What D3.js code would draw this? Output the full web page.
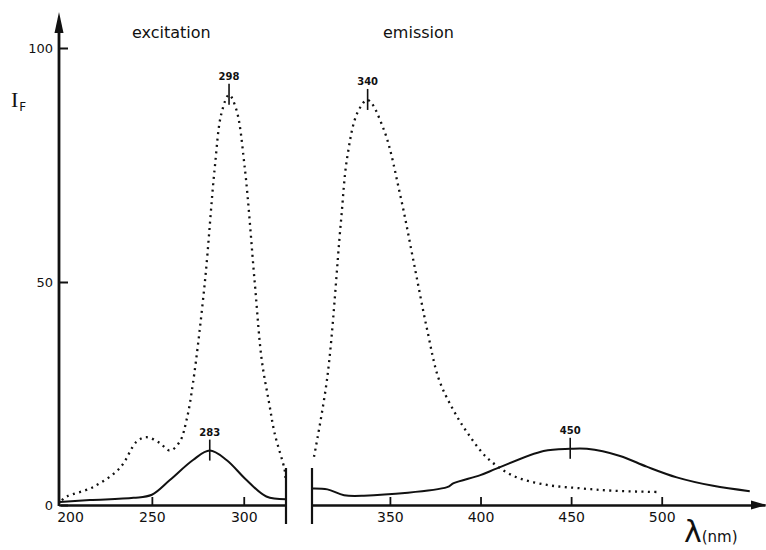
<!DOCTYPE html>
<html>
<head>
<meta charset="utf-8">
<script src="https://cdn.jsdelivr.net/npm/d3@7"></script>
<style>
    body { margin: 0; background: #fff; }
    text { font-family: "DejaVu Sans", sans-serif; fill: #111; }
</style>
</head>
<body>
<div id="chart-container"></div>
<script>
// spectra: [wavelength nm, I_F]
const excitationDotted = [
    [201, 1.1], [203.6, 1.9], [217.9, 4.0], [232.6, 8.3], [241.7, 14.2], [247.1, 15.2],
    [254.3, 13.9], [259.8, 12.2], [265.2, 14.2], [268.9, 19.1], [272.4, 27.4], [278.8, 49.8],
    [284.2, 74.3], [287.9, 86.1], [292, 90], [296, 86.8], [300.5, 74.6], [306, 49.8],
    [309.8, 32.5], [313.8, 22.9], [316.8, 16.1], [322.3, 7.8], [322.8, 5.6]
];
const excitationSolid = [
    [200, 0.7], [216.3, 1.1], [240, 1.6], [250, 2.3], [259.8, 5.6], [272.4, 10.1], [281.5, 12.2],
    [290.6, 10.1], [301.5, 5.6], [312.3, 1.9], [323.2, 1.3]
];
const emissionDotted = [
    [308.1, 10.8], [315.5, 28.8], [322.9, 62.6], [326.5, 76.8], [332, 86.1], [337.7, 88.9],
    [346.7, 82.5], [355.9, 68.2], [363.2, 54.1], [370.6, 39.2], [377, 28.2], [385, 21.3], [392.6, 16.3],
    [403.6, 10.6], [418.3, 6.5], [436.7, 4.5], [455, 3.75], [473.3, 3.2], [499.1, 2.9]
];
const emissionSolid = [
    [307.3, 3.7], [315.5, 3.5], [324.7, 2.2], [335.7, 2.1], [381.6, 4.0], [385.2, 4.9],
    [399.9, 6.7], [409.1, 8.2], [434.8, 12.1], [449.5, 12.6], [458.7, 12.6], [477, 11.0],
    [491.7, 8.6], [508.3, 6.2], [528.4, 4.3], [548.6, 3.1]
];

// peak marks: where they sit in the figure and what they say
const leftPeaks = [{ nm: 292, value: 90, label: '298' }, { nm: 281.5, value: 12.2, label: '283' }];
const rightPeaks = [{ nm: 337.7, value: 88.9, label: '340' }, { nm: 449.5, value: 12.6, label: '450' }];

const leftTicks = [200, 250, 300];
const rightTicks = [350, 400, 450, 500];
const yTicks = [0, 50, 100];

function createChart(elementId) {
    const width = 766;
    const height = 550;

    const svg = d3.select(elementId).append('svg').attr('width', width).attr('height', height);

    const baseY = 505;

    // broken x axis: two scales
    const xLeft = d3.scaleLinear().domain([200, 323]).range([60, 286]);
    const xRight = d3.scaleLinear().domain([307, 557]).range([312, 765]);
    // the scanned axis is not quite linear, so pin the three ticks
    const y = d3.scaleLinear().domain([0, 50, 100]).range([baseY, 282, 48]);

    // y axis
    const yAxis = svg.append('g')
        .attr('transform', 'translate(59,0)')
        .call(d3.axisLeft(y).tickValues(yTicks).tickSize(-9).tickPadding(6));
    yAxis.select('.domain').remove();
    yAxis.selectAll('line').attr('stroke', '#111').attr('stroke-width', 2);
    yAxis.selectAll('text').style('font-size', '13px');

    svg.append('line')
        .attr('x1', 59).attr('x2', 59)
        .attr('y1', baseY + 1).attr('y2', 25)
        .attr('stroke', '#111').attr('stroke-width', 2.8);
    svg.append('path')
        .attr('d', 'M59,12 L54.5,33 L63.5,33 Z')
        .attr('fill', '#111');

    // x axes
    function styleAxis(ax) {
        ax.select('.domain').attr('stroke', '#111').attr('stroke-width', 2.6);
        ax.selectAll('line').attr('stroke', '#111').attr('stroke-width', 1.8);
        ax.selectAll('text').style('font-size', '14px');
    }

    const leftAxis = svg.append('g')
        .attr('transform', `translate(0,${baseY})`)
        .call(d3.axisBottom(xLeft).tickValues(leftTicks).tickSize(-8).tickSizeOuter(0).tickPadding(7));
    styleAxis(leftAxis);
    leftAxis.selectAll('.tick').filter(d => d === 200).select('line').remove();
    leftAxis.selectAll('.tick').filter(d => d === 200).select('text').attr('dx', 10);

    const rightAxis = svg.append('g')
        .attr('transform', `translate(0,${baseY})`)
        .call(d3.axisBottom(xRight).tickValues(rightTicks).tickSize(-8).tickSizeOuter(0).tickPadding(7));
    styleAxis(rightAxis);

    svg.append('path')
        .attr('d', `M767,${baseY} L751,${baseY - 4.5} L751,${baseY + 4.5} Z`)
        .attr('fill', '#111');

    // break marks
    [xLeft.range()[1], xRight.range()[0]].forEach(x => {
        svg.append('line')
            .attr('x1', x).attr('x2', x)
            .attr('y1', 468).attr('y2', 524)
            .attr('stroke', '#111').attr('stroke-width', 2.2);
    });

    // curves
    function drawCurve(data, xs, dotted) {
        const line = d3.line()
            .x(d => xs(d[0]))
            .y(d => y(d[1]))
            .curve(d3.curveCatmullRom.alpha(0.5));
        svg.append('path')
            .datum(data)
            .attr('d', line)
            .attr('fill', 'none')
            .attr('stroke', '#111')
            .attr('stroke-width', dotted ? 2.3 : 2)
            .attr('stroke-dasharray', dotted ? '2,4.4' : null)
            .attr('stroke-linejoin', 'round');
    }

    drawCurve(excitationDotted, xLeft, true);
    drawCurve(excitationSolid, xLeft, false);
    drawCurve(emissionDotted, xRight, true);
    drawCurve(emissionSolid, xRight, false);

    // peak marks
    function drawPeaks(peaks, xs) {
        const mark = svg.append('g').selectAll('g')
            .data(peaks)
            .join('g')
            .attr('transform', d => `translate(${xs(d.nm)},${y(d.value)})`);
        mark.append('line')
            .attr('y1', -11).attr('y2', 10)
            .attr('stroke', '#111').attr('stroke-width', 1.6);
        mark.append('text')
            .attr('y', -15)
            .attr('text-anchor', 'middle')
            .style('font-size', '10px')
            .style('font-weight', 'bold')
            .text(d => d.label);
    }
    drawPeaks(leftPeaks, xLeft);
    drawPeaks(rightPeaks, xRight);

    // titles
    svg.append('text').attr('x', 132).attr('y', 38).style('font-size', '16px').text('excitation');
    svg.append('text').attr('x', 383).attr('y', 38).style('font-size', '16px').text('emission');

    // axis labels
    const yLabel = svg.append('text').attr('x', 11).attr('y', 107)
        .style('font-family', '"Liberation Serif", serif').style('font-size', '22px');
    yLabel.append('tspan').text('I');
    yLabel.append('tspan').attr('dy', 4).attr('dx', 1)
        .style('font-family', '"DejaVu Sans", sans-serif').style('font-size', '12px').text('F');

    const xLabel = svg.append('text').attr('x', 684).attr('y', 542);
    xLabel.append('tspan').style('font-size', '30px').text('λ');
    xLabel.append('tspan').style('font-size', '15px').text('(nm)');
}

createChart('#chart-container');
</script>
</body>
</html>
